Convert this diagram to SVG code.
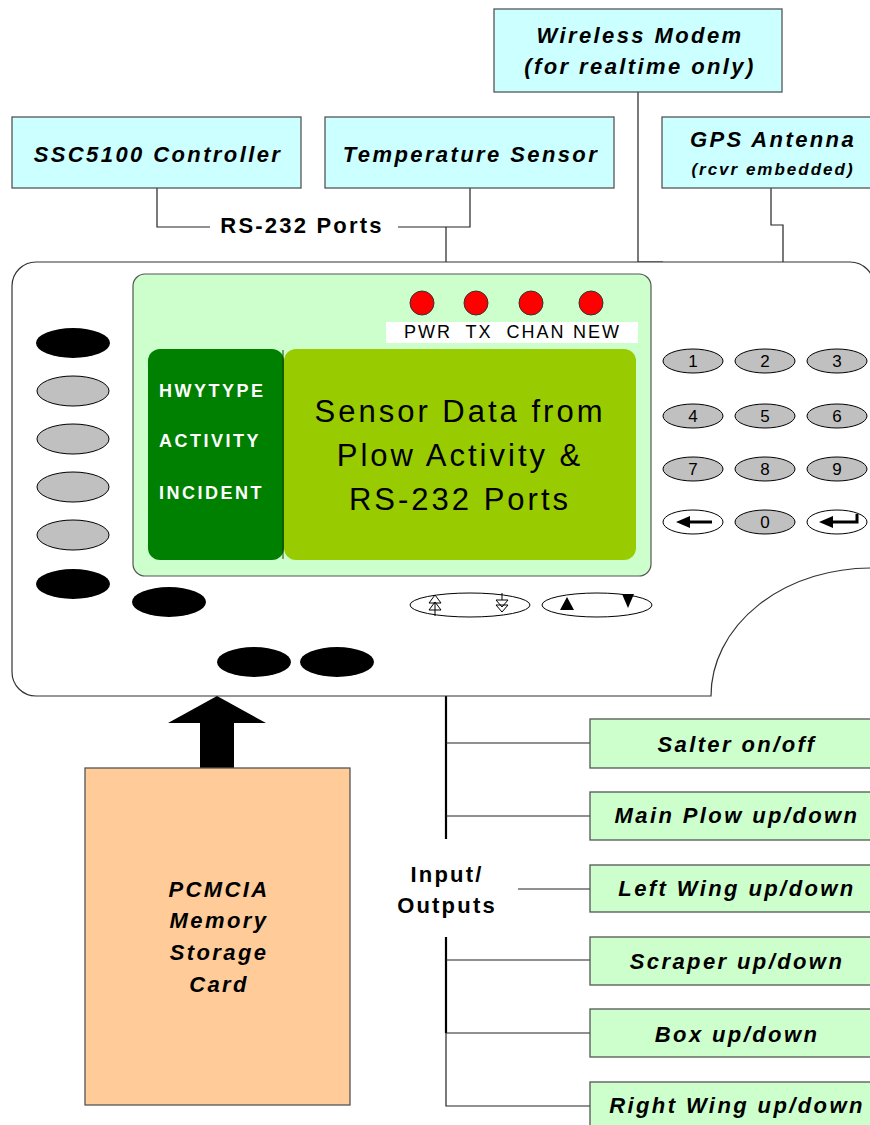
<svg xmlns="http://www.w3.org/2000/svg" width="870" height="1125" viewBox="0 0 870 1125">
<defs>
<style>
.box{fill:#CCFFFF;stroke:#555;stroke-width:1.3}
.out{fill:#CCFFCC;stroke:#555;stroke-width:1.3}
.lbl{font-family:"Liberation Sans",Arial,sans-serif;font-weight:bold;font-style:italic;font-size:22px;letter-spacing:2.4px;text-anchor:middle;fill:#000}
.sm{font-size:17px;letter-spacing:2px}
.bold{font-family:"Liberation Sans",Arial,sans-serif;font-weight:bold;font-size:22px;letter-spacing:2.2px;text-anchor:middle;fill:#000}
.menu{font-family:"Liberation Sans",Arial,sans-serif;font-weight:bold;font-size:18px;letter-spacing:2.5px;fill:#fff}
.big{font-family:"Liberation Sans",Arial,sans-serif;font-size:31px;letter-spacing:3px;text-anchor:middle;fill:#000}
.led{font-family:"Liberation Sans",Arial,sans-serif;font-size:18px;letter-spacing:2px;text-anchor:middle;fill:#000}
.key{font-family:"Liberation Sans",Arial,sans-serif;font-size:17px;text-anchor:middle;fill:#000}
.kg{fill:#C0C0C0;stroke:#000;stroke-width:1}
.kw{fill:#fff;stroke:#000;stroke-width:1}
.blk{fill:#000}
.conn{fill:none;stroke:#222;stroke-width:1.2}
.bus{fill:none;stroke:#000;stroke-width:2.2}
</style>
</defs>
<rect width="870" height="1125" fill="#fff"/>

<g id="connectors">
<path class="conn" d="M157,188 V227 H210"/>
<path class="conn" d="M398,227 H470 V188"/>
<path class="conn" d="M446,227 V262"/>
<path class="conn" d="M638,92 V262 H663"/>
<path class="conn" d="M771,188 V225 H783 V262"/>
<path class="bus" d="M446,696 V839"/>
<path class="conn" d="M446,743 H590"/>
<path class="conn" d="M446,816 H590"/>
<path class="conn" d="M518,889 H590"/>
<path class="bus" d="M446,937 V1033"/>
<path class="conn" d="M446,1033 V1106 H590"/>
<path class="conn" d="M446,960 H590"/>
<path class="conn" d="M446,1033 H590"/>
<text class="bold" x="302" y="233">RS-232 Ports</text>
<text class="bold" x="447" y="882">Input/</text>
<text class="bold" x="447" y="913">Outputs</text>
</g>

<g id="modem">
<rect class="box" x="494" y="9" width="288" height="83"/>
<text class="lbl" x="640" y="43">Wireless Modem</text>
<text class="lbl" x="640" y="74">(for realtime only)</text>
</g>
<g id="ssc">
<rect class="box" x="12" y="117" width="289" height="71"/>
<text class="lbl" x="158" y="162">SSC5100 Controller</text>
</g>
<g id="temp">
<rect class="box" x="325" y="117" width="289" height="71"/>
<text class="lbl" x="471" y="162">Temperature Sensor</text>
</g>
<g id="gps">
<rect class="box" x="662" y="117" width="220" height="71"/>
<text class="lbl" x="773" y="147">GPS Antenna</text>
<text class="lbl sm" x="773" y="175">(rcvr embedded)</text>
</g>

<g id="device">
<path d="M36,262 H850 A24,24 0 0 1 874,286 V568 A160,128 0 0 0 711,696 H36 A24,24 0 0 1 12,672 V286 A24,24 0 0 1 36,262 Z" fill="#fff" stroke="#333" stroke-width="1.2"/>
<rect x="133" y="274" width="518" height="302" rx="12" fill="#CCFFCC" stroke="#555" stroke-width="1.2"/>
<rect x="148" y="349" width="136" height="211" rx="12" fill="#008000"/>
<rect x="284" y="349" width="352" height="211" rx="12" fill="#99CC00"/>
<line x1="283" y1="350" x2="283" y2="559" stroke="#1a3a00" stroke-width="1"/>
<text class="menu" x="159" y="397">HWYTYPE</text>
<text class="menu" x="159" y="447">ACTIVITY</text>
<text class="menu" x="159" y="499">INCIDENT</text>
<text class="big" x="460" y="422">Sensor Data from</text>
<text class="big" x="460" y="466">Plow Activity &amp;</text>
<text class="big" x="460" y="510">RS-232 Ports</text>
<g fill="#FF0000" stroke="#333" stroke-width="1">
<circle cx="422" cy="303" r="12"/>
<circle cx="476" cy="303" r="12"/>
<circle cx="531" cy="303" r="12"/>
<circle cx="591" cy="303" r="12"/>
</g>
<rect x="386" y="322" width="252" height="21" fill="#fff"/>
<text class="led" x="428" y="338">PWR</text>
<text class="led" x="479" y="338">TX</text>
<text class="led" x="536" y="338">CHAN</text>
<text class="led" x="597" y="338">NEW</text>
<ellipse class="blk" cx="73" cy="343" rx="37" ry="15"/>
<ellipse class="kg" cx="73" cy="391" rx="36" ry="15"/>
<ellipse class="kg" cx="73" cy="439" rx="36" ry="15"/>
<ellipse class="kg" cx="73" cy="487" rx="36" ry="15"/>
<ellipse class="kg" cx="73" cy="535" rx="36" ry="15"/>
<ellipse class="blk" cx="73" cy="584" rx="37" ry="15"/>
<ellipse class="blk" cx="169" cy="602" rx="37" ry="15"/>
<ellipse class="blk" cx="254" cy="662" rx="37" ry="15"/>
<ellipse class="blk" cx="337" cy="662" rx="37" ry="15"/>
<ellipse class="kg" cx="693" cy="361" rx="30" ry="12"/>
<ellipse class="kg" cx="765" cy="361" rx="30" ry="12"/>
<ellipse class="kg" cx="837" cy="361" rx="30" ry="12"/>
<ellipse class="kg" cx="693" cy="416" rx="30" ry="12"/>
<ellipse class="kg" cx="765" cy="416" rx="30" ry="12"/>
<ellipse class="kg" cx="837" cy="416" rx="30" ry="12"/>
<ellipse class="kg" cx="693" cy="469" rx="30" ry="12"/>
<ellipse class="kg" cx="765" cy="469" rx="30" ry="12"/>
<ellipse class="kg" cx="837" cy="469" rx="30" ry="12"/>
<ellipse class="kw" cx="693" cy="522" rx="30" ry="12"/>
<ellipse class="kg" cx="765" cy="522" rx="30" ry="12"/>
<ellipse class="kw" cx="837" cy="522" rx="30" ry="12"/>
<text class="key" x="693" y="367">1</text>
<text class="key" x="765" y="367">2</text>
<text class="key" x="837" y="367">3</text>
<text class="key" x="693" y="422">4</text>
<text class="key" x="765" y="422">5</text>
<text class="key" x="837" y="422">6</text>
<text class="key" x="693" y="475">7</text>
<text class="key" x="765" y="475">8</text>
<text class="key" x="837" y="475">9</text>
<text class="key" x="765" y="528">0</text>
<path d="M686,522 H712" stroke="#000" stroke-width="3"/>
<path d="M676,522 L690,516 L690,528 Z" fill="#000"/>
<path d="M857,514 V522 H828" fill="none" stroke="#000" stroke-width="3"/>
<path d="M819,522 L833,516 L833,528 Z" fill="#000"/>
<ellipse class="kw" cx="470" cy="605" rx="60" ry="12"/>
<ellipse class="kw" cx="597" cy="605" rx="55" ry="12"/>
<g fill="none" stroke="#000" stroke-width="1">
<path d="M435,595 L429,603 H441 Z"/>
<path d="M435,602 L429,610 H441 Z"/>
<path d="M435,603 V616"/>
<path d="M502,593 V600 M496,600 H508"/>
<path d="M496,600 L502,607 L508,600"/>
<path d="M496,605 L502,612 L508,605 Z"/>
</g>
<path d="M567,597 L560,610 H574 Z" fill="#000"/>
<path d="M622,594 H634 L628,608 Z" fill="#000"/>
</g>

<g id="pcmcia">
<path d="M200,768 V723 H168 L217,696 L266,723 H234 V768 Z" fill="#000"/>
<rect x="85" y="768" width="265" height="337" fill="#FFCC99" stroke="#555" stroke-width="1.3"/>
<text class="lbl" x="219" y="897">PCMCIA</text>
<text class="lbl" x="219" y="928">Memory</text>
<text class="lbl" x="219" y="960">Storage</text>
<text class="lbl" x="219" y="992">Card</text>
</g>

<g id="salter"><rect class="out" x="590" y="719" width="300" height="49"/><text class="lbl" x="737" y="752">Salter on/off</text></g>
<g id="mainplow"><rect class="out" x="590" y="792" width="300" height="48"/><text class="lbl" x="737" y="823">Main Plow up/down</text></g>
<g id="leftwing"><rect class="out" x="590" y="865" width="300" height="47"/><text class="lbl" x="737" y="896">Left Wing up/down</text></g>
<g id="scraper"><rect class="out" x="590" y="937" width="300" height="48"/><text class="lbl" x="737" y="969">Scraper up/down</text></g>
<g id="box"><rect class="out" x="590" y="1009" width="300" height="48"/><text class="lbl" x="737" y="1042">Box up/down</text></g>
<g id="rightwing"><rect class="out" x="590" y="1082" width="300" height="60"/><text class="lbl" x="737" y="1113">Right Wing up/down</text></g>
</svg>
